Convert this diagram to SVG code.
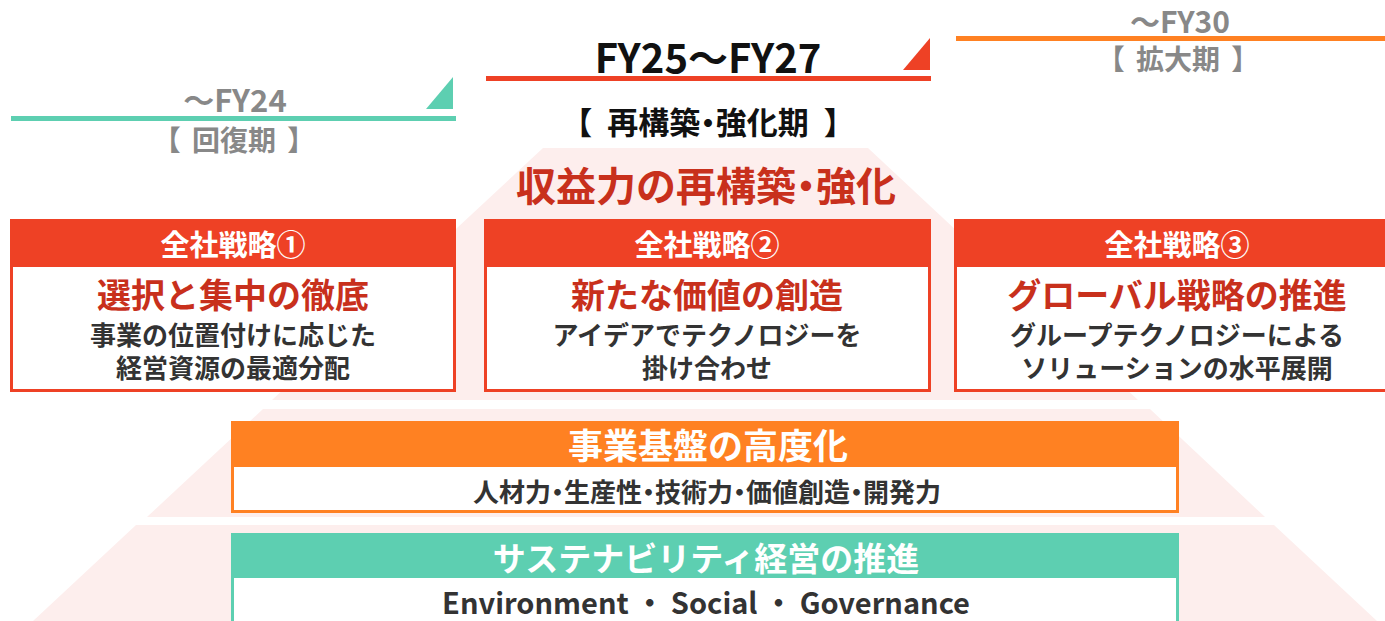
<svg xmlns="http://www.w3.org/2000/svg" width="1385" height="621" viewBox="0 0 1385 621">
  <style>
    text { font-family: "Noto Sans CJK JP", "Noto Sans", sans-serif; font-weight: bold; text-anchor: middle; }
    .gray { fill: #888888; }
    .blk { fill: #111111; }
    .wht { fill: #ffffff; }
    .red { fill: #C8301C; }
    .dark { fill: #333333; }
    .pink { fill: #FDEEED; }
    .sbox { fill: #ffffff; stroke: #EE4125; stroke-width: 3; }
    .shead { fill: #EE4125; }
    .dot { font-feature-settings: "palt"; }
  </style>

  <!-- pyramid background -->
  <g id="pyramid">
    <polygon class="pink" points="543,148 868,148 1138,400 272,400"/>
    <polygon class="pink" points="263,409 1150,409 1265,517 147,517"/>
    <polygon class="pink" points="136,525 1274,525 1377,621 33,621"/>
  </g>

  <!-- period headers -->
  <g id="period1">
    <text class="gray" x="235" y="112" font-size="31">～FY24</text>
    <rect x="11" y="116" width="445" height="5" fill="#5DCFB1"/>
    <polygon points="426,109 453,77 453,109" fill="#5DCFB1"/>
    <text class="gray" x="234" y="151" font-size="28">【 <tspan dx="5">回復期</tspan><tspan dx="5"> 】</tspan></text>
  </g>
  <g id="period2">
    <text class="blk" x="708" y="73" font-size="40">FY25～FY27</text>
    <rect x="486" y="76" width="445" height="5" fill="#EE4125"/>
    <polygon points="903,70 930,38 930,70" fill="#EE4125"/>
    <text class="blk" x="708" y="134" font-size="31">【 <tspan dx="8">再構築</tspan><tspan class="dot">・</tspan>強化期<tspan dx="8"> 】</tspan></text>
  </g>
  <g id="period3">
    <text class="gray" x="1180" y="33" font-size="30">～FY30</text>
    <rect x="956" y="36" width="429" height="5" fill="#FF8122"/>
    <text class="gray" x="1178" y="70" font-size="28">【 <tspan dx="5">拡大期</tspan><tspan dx="5"> 】</tspan></text>
  </g>

  <g id="title">
    <text class="red" x="706" y="201" font-size="40">収益力の再構築<tspan class="dot">・</tspan>強化</text>
  </g>

  <!-- strategy boxes -->
  <g id="strategy1">
    <rect class="sbox" x="11.5" y="220.5" width="443" height="170"/>
    <rect class="shead" x="10" y="219" width="446" height="48"/>
    <text class="wht" x="233" y="256" font-size="29">全社戦略①</text>
    <text class="red" x="233" y="308" font-size="34">選択と集中の徹底</text>
    <text class="dark" font-size="26"><tspan x="233" y="345">事業の位置付けに応じた</tspan><tspan x="233" y="378">経営資源の最適分配</tspan></text>
  </g>
  <g id="strategy2">
    <rect class="sbox" x="485.5" y="220.5" width="444" height="170"/>
    <rect class="shead" x="484" y="219" width="447" height="48"/>
    <text class="wht" x="707" y="256" font-size="29">全社戦略②</text>
    <text class="red" x="707" y="308" font-size="34">新たな価値の創造</text>
    <text class="dark" font-size="26"><tspan x="707" y="345">アイデアでテクノロジーを</tspan><tspan x="707" y="378">掛け合わせ</tspan></text>
  </g>
  <g id="strategy3">
    <rect class="sbox" x="955.5" y="220.5" width="440" height="170"/>
    <rect class="shead" x="954" y="219" width="440" height="48"/>
    <text class="wht" x="1177" y="256" font-size="29">全社戦略③</text>
    <text class="red" x="1177" y="308" font-size="34">グローバル戦略の推進</text>
    <text class="dark" font-size="26"><tspan x="1177" y="345">グループテクノロジーによる</tspan><tspan x="1177" y="378">ソリューションの水平展開</tspan></text>
  </g>

  <!-- foundation -->
  <g id="foundation">
    <rect x="232.5" y="422.5" width="945" height="89" fill="#ffffff" stroke="#FF8122" stroke-width="3"/>
    <rect x="231" y="421" width="948" height="46" fill="#FF8122"/>
    <text class="wht" x="708" y="459" font-size="35">事業基盤の高度化</text>
    <text class="dark" x="707" y="502" font-size="26">人材力<tspan class="dot">・</tspan>生産性<tspan class="dot">・</tspan>技術力<tspan class="dot">・</tspan>価値創造<tspan class="dot">・</tspan>開発力</text>
  </g>

  <!-- sustainability -->
  <g id="sustainability">
    <rect x="232.5" y="534.5" width="945" height="100" fill="#ffffff" stroke="#5DCFB1" stroke-width="3"/>
    <rect x="231" y="533" width="948" height="45" fill="#5DCFB1"/>
    <text class="wht" x="706" y="571" font-size="33">サステナビリティ経営の推進</text>
    <text class="dark" x="706" y="614" font-size="29">Environment ・ Social ・ Governance</text>
  </g>

  <g id="connectors"></g>
</svg>
